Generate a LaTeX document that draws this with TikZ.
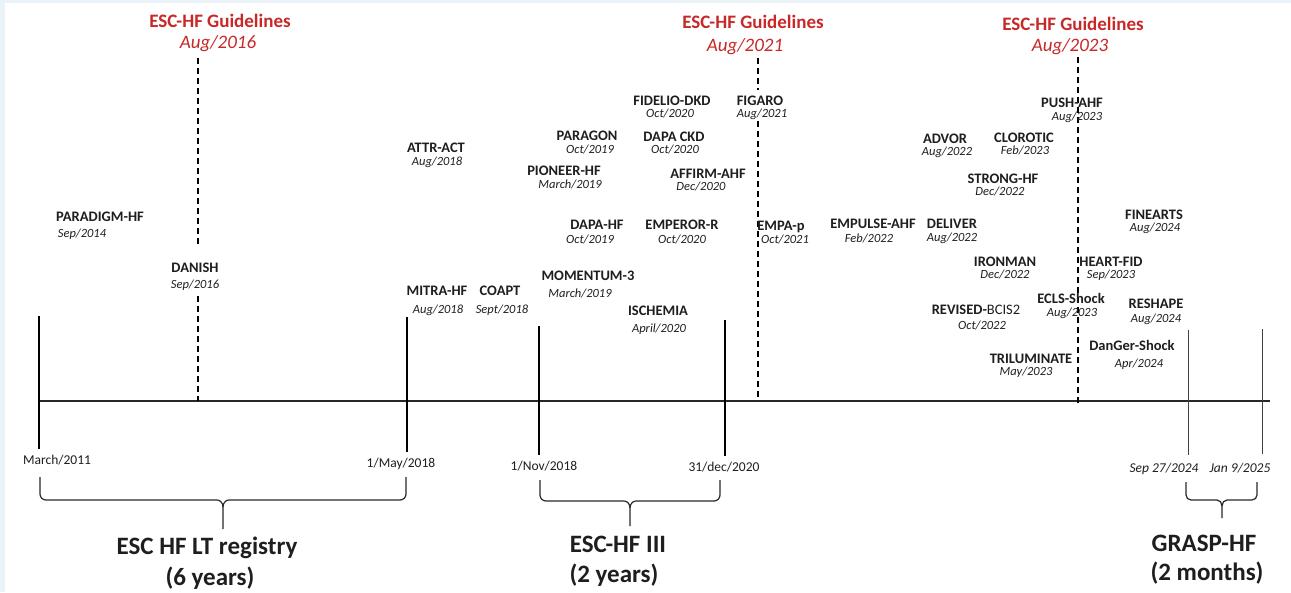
\documentclass[tikz,border=0pt]{standalone}
\usepackage{fontspec}
\setmainfont{Carlito}
\definecolor{guide}{RGB}{200,40,40}
\definecolor{txt}{RGB}{30,30,30}
\definecolor{bgblue}{RGB}{234,244,248}
\definecolor{axisc}{RGB}{40,40,40}
\newcommand\trial[7]{%
  \node[tname] (#1) at (#2,#3) {#4};
  \node[tdate] (#1d) at (#5,#6) {#7};}
\begin{document}
\begin{tikzpicture}[x=1pt,y=-1pt,
  tname/.style={font=\fontsize{14.5}{16}\selectfont\bfseries, inner sep=0pt, anchor=base, yshift=-4.7pt, text=txt},
  tdate/.style={font=\fontsize{12.5}{14}\selectfont\itshape, inner sep=0pt, anchor=base, yshift=-4pt, text=txt},
  gname/.style={font=\fontsize{19}{21}\selectfont\bfseries, inner sep=0pt, anchor=base, yshift=-6.1pt, text=guide},
  gdate/.style={font=\fontsize{19}{21}\selectfont\itshape, inner sep=0pt, anchor=base, yshift=-6.1pt, text=guide},
  axlab/.style={font=\fontsize{13.5}{15}\selectfont, inner sep=0pt, anchor=base, yshift=-4.4pt, text=txt},
  axlabit/.style={font=\fontsize{13.5}{15}\selectfont\itshape, inner sep=0pt, anchor=base, yshift=-4.4pt, text=txt},
  biglab/.style={font=\fontsize{25}{28}\selectfont\bfseries, inner sep=0pt, anchor=base, yshift=-8pt, text=txt},
  mainline/.style={line width=2pt, black},
  thinline/.style={line width=1pt, black!75},
  axisline/.style={line width=1.3pt, axisc},
  guideline/.style={line width=1.3pt, black, dash pattern=on 6pt off 4pt},
  bracepath/.style={line width=1.2pt, axisc, line join=round}]
\useasboundingbox (0,0) rectangle (1291,592);
\fill[bgblue] (0,0) rectangle (1291,592);
\fill[white] (5,3) rectangle (1291,592);

% ---- axis ----
\coordinate (axL) at (38,401);
\coordinate (axR) at (1270,401);
\draw[axisline] (axL) -- (axR);

% ---- period marks ----
\foreach \n/\x/\t/\b in {m1/39/316/449, m2/407/317/452, m3/539/326/455, m4/725/320/456}{
  \coordinate (\n t) at (\x,\t); \coordinate (\n b) at (\x,\b);
  \draw[mainline] (\n t) -- (\n b);}
\foreach \n/\x/\t/\b in {m5/1188/330/455, m6/1262/329/454}{
  \coordinate (\n t) at (\x,\t); \coordinate (\n b) at (\x,\b);
  \draw[thinline] (\n t) -- (\n b);}

\node[axlab] (l1) at (57,460) {March/2011};
\node[axlab] (l2) at (401,463) {1/May/2018};
\node[axlab] (l3) at (544,466) {1/Nov/2018};
\node[axlab] (l4) at (724,467) {31/dec/2020};
\node[axlabit] (l5) at (1164,468) {Sep 27/2024};
\node[axlabit] (l6) at (1240,468) {Jan 9/2025};

% ---- guidelines ----
\node[gname] (g1) at (220,21) {ESC-HF Guidelines};
\node[gdate] (g1d) at (218,42) {Aug/2016};
\node[gname] (g2) at (753,22) {ESC-HF Guidelines};
\node[gdate] (g2d) at (745,45) {Aug/2021};
\node[gname] (g3) at (1073,24) {ESC-HF Guidelines};
\node[gdate] (g3d) at (1070,45) {Aug/2023};

\coordinate (d1a) at (198,58); \coordinate (d1b) at (198,247);
\coordinate (d1c) at (198,296); \coordinate (d1d) at (198,401);
\draw[guideline] (d1a) -- (d1b);
\draw[guideline] (d1c) -- (d1d);
\coordinate (d2a) at (758,58); \coordinate (d2b) at (758,90);
\coordinate (d2c) at (758,121); \coordinate (d2d) at (758,401);
\draw[guideline] (d2a) -- (d2b);
\draw[guideline] (d2c) -- (d2d);
\coordinate (d3a) at (1078,57); \coordinate (d3b) at (1078,405);
\draw[guideline] (d3a) -- (d3b);

% ---- trials ----
\trial{paradigm}{100}{217}{PARADIGM-HF}{82}{233}{Sep/2014}
\trial{danish}{195}{268}{DANISH}{195}{284}{Sep/2016}
\trial{attr}{436}{148}{ATTR-ACT}{437}{161}{Aug/2018}
\trial{mitra}{437}{291}{MITRA-HF}{438}{309}{Aug/2018}
\trial{coapt}{500}{291}{COAPT}{502}{309}{Sept/2018}
\trial{paragon}{587}{136}{PARAGON}{590}{149}{Oct/2019}
\trial{pioneer}{564}{171}{PIONEER-HF}{570}{184}{March/2019}
\trial{dapahf}{597}{225}{DAPA-HF}{590}{239}{Oct/2019}
\trial{momentum}{588}{276}{MOMENTUM-3}{580}{293}{March/2019}
\trial{fidelio}{672}{101}{FIDELIO-DKD}{670}{113.5}{Oct/2020}
\trial{dapackd}{674}{137}{DAPA CKD}{675}{149.5}{Oct/2020}
\trial{affirm}{708}{174}{AFFIRM-AHF}{701}{186.5}{Dec/2020}
\trial{emperor}{682}{225}{EMPEROR-R}{682}{239}{Oct/2020}
\trial{ischemia}{658}{311}{ISCHEMIA}{659}{328}{April/2020}
\trial{figaro}{760}{101}{FIGARO}{762}{113.5}{Aug/2021}
\trial{empap}{781}{226}{EMPA-p}{785}{239}{Oct/2021}
\trial{empulse}{873}{224}{EMPULSE-AHF}{869}{238}{Feb/2022}
\trial{advor}{945}{138.5}{ADVOR}{947}{151}{Aug/2022}
\trial{clorotic}{1024}{137.5}{CLOROTIC}{1025}{150}{Feb/2023}
\trial{strong}{1003}{179}{STRONG-HF}{1000}{191.5}{Dec/2022}
\trial{deliver}{952}{224}{DELIVER}{952}{237}{Aug/2022}
\trial{ironman}{1005}{261.5}{IRONMAN}{1005}{274}{Dec/2022}
\trial{revised}{976}{310}{REVISED-\mdseries BCIS2}{982}{325}{Oct/2022}
\trial{push}{1072}{103}{PUSH-AHF}{1077}{116}{Aug/2023}
\trial{ecls}{1071}{299}{ECLS-Shock}{1072}{312}{Aug/2023}
\trial{trilum}{1031}{358.5}{TRILUMINATE}{1026}{371}{May/2023}
\trial{heartfid}{1111}{261.5}{HEART-FID}{1111}{274}{Sep/2023}
\trial{finearts}{1154}{214.5}{FINEARTS}{1155}{227}{Aug/2024}
\trial{reshape}{1156}{304}{RESHAPE}{1156}{318}{Aug/2024}
\trial{danger}{1132}{346}{DanGer-Shock}{1139}{363}{Apr/2024}

% ---- braces ----
\draw[bracepath] (40,477) -- (40,494) to[out=-90,in=180] (46,500) -- (217,500)
  to[out=0,in=90] (223,507) -- (223,529);
\draw[bracepath] (406,477) -- (406,494) to[out=-90,in=0] (400,500) -- (229,500)
  to[out=180,in=90] (223,507);
\draw[bracepath] (540,480) -- (540,495) to[out=-90,in=180] (546,501) -- (624,501)
  to[out=0,in=90] (630,508) -- (630,526);
\draw[bracepath] (720,480) -- (720,495) to[out=-90,in=0] (714,501) -- (636,501)
  to[out=180,in=90] (630,508);
\draw[bracepath] (1186,482) -- (1186,495) to[out=-90,in=180] (1191,500) -- (1217,500)
  to[out=0,in=90] (1222,506) -- (1222,518);
\draw[bracepath] (1257,482) -- (1257,495) to[out=-90,in=0] (1252,500) -- (1227,500)
  to[out=180,in=90] (1222,506);

\node[biglab] (b1) at (207,546) {ESC HF LT registry};
\node[biglab] (b1d) at (210,577) {(6 years)};
\node[biglab] (b2) at (618,544) {ESC-HF III};
\node[biglab] (b2d) at (614,574) {(2 years)};
\node[biglab] (b3) at (1204,543) {GRASP-HF};
\node[biglab] (b3d) at (1207,572) {(2 months)};
\end{tikzpicture}
\end{document}
